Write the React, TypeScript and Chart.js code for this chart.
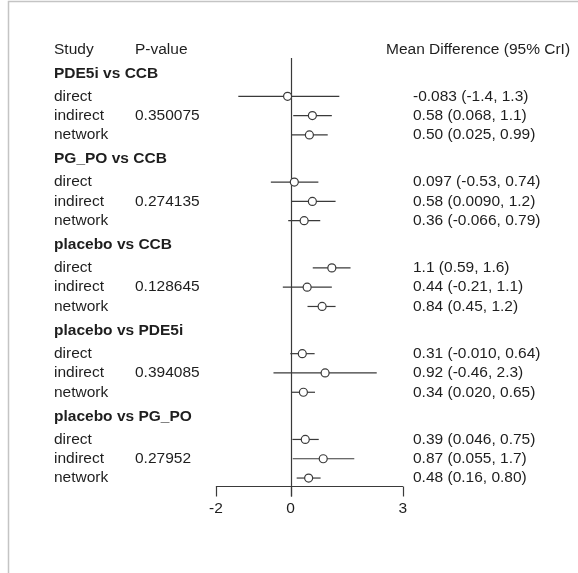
import { useEffect, useRef } from "react";
import { Chart, registerables } from "chart.js";

Chart.register(...registerables);

const groups = ["PDE5i vs CCB", "PG_PO vs CCB", "placebo vs CCB", "placebo vs PDE5i", "placebo vs PG_PO"];
const studies = ["direct", "indirect", "network"];
const pValues = ["0.350075", "0.274135", "0.128645", "0.394085", "0.27952"];
const means = [
  [-0.083, 0.58, 0.5],
  [0.097, 0.58, 0.36],
  [1.1, 0.44, 0.84],
  [0.31, 0.92, 0.34],
  [0.39, 0.87, 0.48],
];
const lowers = [
  [-1.4, 0.068, 0.025],
  [-0.53, 0.009, -0.066],
  [0.59, -0.21, 0.45],
  [-0.01, -0.46, 0.02],
  [0.046, 0.055, 0.16],
];
const uppers = [
  [1.3, 1.1, 0.99],
  [0.74, 1.2, 0.79],
  [1.6, 1.1, 1.2],
  [0.64, 2.3, 0.65],
  [0.75, 1.7, 0.8],
];
const estimateLabels = [
  ["-0.083 (-1.4, 1.3)", "0.58 (0.068, 1.1)", "0.50 (0.025, 0.99)"],
  ["0.097 (-0.53, 0.74)", "0.58 (0.0090, 1.2)", "0.36 (-0.066, 0.79)"],
  ["1.1 (0.59, 1.6)", "0.44 (-0.21, 1.1)", "0.84 (0.45, 1.2)"],
  ["0.31 (-0.010, 0.64)", "0.92 (-0.46, 2.3)", "0.34 (0.020, 0.65)"],
  ["0.39 (0.046, 0.75)", "0.87 (0.055, 1.7)", "0.48 (0.16, 0.80)"],
];
const xTicks = [-2, 0, 3];

const GROUP_STEP = 4.445;
const ROW_OFFSETS = [1.19, 2.19, 3.19];
const FONT = "'Liberation Sans', Arial, sans-serif";
const TEXT = "#1e1e1e";
const LINE = "#3a3a3a";

function rowY(g: number, s: number) {
  return g * GROUP_STEP + ROW_OFFSETS[s];
}

export default function App() {
  const ref = useRef<HTMLCanvasElement | null>(null);

  useEffect(() => {
    const canvas = ref.current;
    if (!canvas) return;

    const datasets: any[] = [];
    groups.forEach((_, g) => {
      studies.forEach((_, s) => {
        datasets.push({
          type: "line",
          data: [
            { x: lowers[g][s], y: rowY(g, s) },
            { x: uppers[g][s], y: rowY(g, s) },
          ],
          borderColor: LINE,
          borderWidth: 1.2,
          pointRadius: 0,
          fill: false,
          order: 2,
        });
      });
    });
    const points: any[] = [];
    groups.forEach((_, g) => studies.forEach((_, s) => points.push({ x: means[g][s], y: rowY(g, s) })));
    datasets.push({
      type: "scatter",
      data: points,
      pointRadius: 4,
      pointBackgroundColor: "#ffffff",
      pointBorderColor: LINE,
      pointBorderWidth: 1.2,
      order: 1,
    });

    const lastY = rowY(groups.length - 1, 2);

    const plugin = {
      id: "forestText",
      beforeDraw(chart: any) {
        const c = chart.ctx;
        c.save();
        c.fillStyle = "#fff";
        c.fillRect(0, 0, chart.width, chart.height);
        c.strokeStyle = "#c4c4c4";
        c.lineWidth = 1.5;
        c.beginPath();
        c.moveTo(8.5, chart.height);
        c.lineTo(8.5, 1.5);
        c.lineTo(chart.width, 1.5);
        c.stroke();

        const xs = chart.scales.x;
        const ys = chart.scales.y;
        const x0 = xs.getPixelForValue(0);
        const axisY = Math.round(ys.getPixelForValue(lastY)) + 8.5;
        c.strokeStyle = LINE;
        c.lineWidth = 1.2;
        c.beginPath();
        c.moveTo(Math.round(x0) + 0.5, ys.getPixelForValue(-0.79));
        c.lineTo(Math.round(x0) + 0.5, axisY + 10);
        c.stroke();
        c.beginPath();
        c.moveTo(xs.getPixelForValue(xTicks[0]), axisY);
        c.lineTo(xs.getPixelForValue(xTicks[xTicks.length - 1]), axisY);
        xTicks.forEach((t) => {
          const px = Math.round(xs.getPixelForValue(t)) + 0.5;
          c.moveTo(px, axisY);
          c.lineTo(px, axisY + 10);
        });
        c.stroke();
        c.fillStyle = TEXT;
        c.font = `15.5px ${FONT}`;
        c.textAlign = "center";
        c.textBaseline = "middle";
        xTicks.forEach((t) => {
          c.fillText(String(t), xs.getPixelForValue(t), axisY + 22);
        });
        c.restore();
      },
      afterDraw(chart: any) {
        const c = chart.ctx;
        const ys = chart.scales.y;
        c.save();
        c.fillStyle = TEXT;
        c.textAlign = "left";
        c.textBaseline = "middle";
        c.font = `15.5px ${FONT}`;
        const hy = ys.getPixelForValue(-1.21);
        c.fillText("Study", 54, hy);
        c.fillText("P-value", 135, hy);
        c.fillText("Mean Difference (95% CrI)", 386, hy);
        groups.forEach((name, g) => {
          c.font = `bold 15.5px ${FONT}`;
          c.fillText(name, 54, ys.getPixelForValue(g * GROUP_STEP));
          c.font = `15.5px ${FONT}`;
          studies.forEach((st, s) => {
            const py = ys.getPixelForValue(rowY(g, s));
            c.fillText(st, 54, py);
            if (s === 1) c.fillText(pValues[g], 135, py);
            c.fillText(estimateLabels[g][s], 413, py);
          });
        });
        c.restore();
      },
    };

    const chart = new Chart(canvas, {
      type: "scatter",
      data: { datasets },
      options: {
        animation: false,
        responsive: false,
        maintainAspectRatio: false,
        layout: { padding: 0, autoPadding: false },
        plugins: { legend: { display: false }, tooltip: { enabled: false } },
        scales: {
          x: { type: "linear", display: false, min: -7.77, max: 7.68 },
          y: { type: "linear", display: false, reverse: true, min: -3.8, max: 25.89 },
        },
      },
      plugins: [plugin],
    });
    return () => chart.destroy();
  }, []);

  return (
    <div style={{ position: "fixed", left: 0, top: 0, width: 578, height: 573 }}>
      <canvas ref={ref} width={578} height={573} />
    </div>
  );
}
